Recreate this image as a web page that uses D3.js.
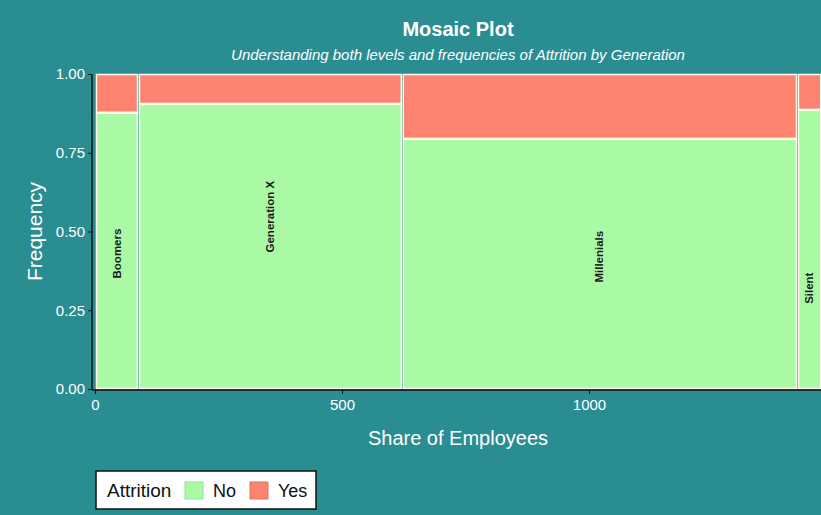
<!DOCTYPE html>
<html>
<head>
<meta charset="utf-8">
<script src="https://cdn.jsdelivr.net/npm/d3@7"></script>
<style>
  body { margin: 0; background: #fff; }
  svg { display: block; font-family: "Liberation Sans", Arial, sans-serif; }
</style>
</head>
<body>
<svg id="chart" width="821" height="515"></svg>
<script>
// generations, headcount per generation, share with Attrition = No
var generations = ["Boomers", "Generation X", "Millenials", "Silent"];
var counts = [87, 534, 800, 49];
var shareNo = [0.877, 0.905, 0.794, 0.886];
// where the generation label sits (frequency units)
var labelAt = [0.43, 0.547, 0.42, 0.32];
var xTicks = [0, 500, 1000];
var yTicks = [0, 0.25, 0.5, 0.75, 1];
var attritionLevels = ["No", "Yes"];

var svg = d3.select("#chart"),
WIDTH = 821,
HEIGHT = 515,
MARGINS = { top: 74, right: 0, bottom: 125, left: 95 };

var total = d3.sum(counts);
var colour = d3.scaleOrdinal().domain(attritionLevels).range(["#aaf9a5", "#fb836f"]);

svg.append("rect").attr("width", WIDTH).attr("height", HEIGHT).attr("fill", "#2a8d92");

var xScale = d3.scaleLinear()
    .range([MARGINS.left, MARGINS.left + total * 0.494])
    .domain([0, total]);

var yScale = d3.scaleLinear()
    .range([HEIGHT - MARGINS.bottom - 1, MARGINS.top])
    .domain([0, 1]);

// cumulative x positions
var start = 0;
var blocks = generations.map(function (g, i) {
    var b = { gen: g, x0: start, x1: start + counts[i], no: shareNo[i], lab: labelAt[i] };
    start += counts[i];
    return b;
});

var cells = [];
blocks.forEach(function (b) {
    cells.push({ gen: b.gen, att: "No", x0: b.x0, x1: b.x1, y0: 0, y1: b.no });
    cells.push({ gen: b.gen, att: "Yes", x0: b.x0, x1: b.x1, y0: b.no, y1: 1 });
});

svg.append("g").selectAll("rect")
    .data(cells)
    .enter().append("rect")
    .attr("x", function (d) { return xScale(d.x0) + 1.5; })
    .attr("y", function (d) { return yScale(d.y1) + 0.5; })
    .attr("width", function (d) { return Math.max(0, xScale(d.x1) - xScale(d.x0) - 2); })
    .attr("height", function (d) { return yScale(d.y0) - yScale(d.y1) - 1; })
    .attr("fill", function (d) { return colour(d.att); })
    .attr("stroke", "#fdfbe9")
    .attr("stroke-width", 1.5);

svg.append("g").selectAll("text")
    .data(blocks)
    .enter().append("text")
    .attr("transform", function (d) {
        return "translate(" + xScale((d.x0 + d.x1) / 2) + "," + yScale(d.lab) + ") rotate(-90)";
    })
    .attr("text-anchor", "middle")
    .attr("dy", "0.35em")
    .style("font-size", "11.5px")
    .style("font-weight", "bold")
    .attr("fill", "#1a1a1a")
    .text(function (d) { return d.gen; });

// axes
var xAxis = d3.axisBottom(xScale).tickValues(xTicks).tickSize(4).tickFormat(d3.format("d"));
var yAxis = d3.axisLeft(yScale).tickValues(yTicks).tickSize(4).tickFormat(d3.format(".2f"));

var gx = svg.append("g")
    .attr("transform", "translate(0," + (yScale(0) + 1) + ")")
    .call(xAxis);
gx.select(".domain").attr("stroke", "#111").attr("stroke-width", 1.5)
    .attr("d", "M" + (MARGINS.left - 3) + ",0H" + WIDTH);
gx.selectAll(".tick line").attr("stroke", "#111");
gx.selectAll(".tick text").attr("fill", "#fff").style("font-size", "15px").attr("dy", "0.85em");

var gy = svg.append("g")
    .attr("transform", "translate(" + (MARGINS.left - 3) + ",0)")
    .call(yAxis);
gy.select(".domain").attr("stroke", "#111").attr("stroke-width", 1.5)
    .attr("d", "M0," + yScale(1) + "V" + (yScale(0) + 1));
gy.selectAll(".tick line").attr("stroke", "#111");
gy.selectAll(".tick text").attr("fill", "#fff").style("font-size", "15px");

// titles
var midX = (MARGINS.left + WIDTH) / 2;
svg.append("text").attr("x", midX).attr("y", 36)
    .attr("text-anchor", "middle").attr("fill", "#fff")
    .style("font-size", "20px").style("font-weight", "bold")
    .text("Mosaic Plot");
svg.append("text").attr("x", midX).attr("y", 60)
    .attr("text-anchor", "middle").attr("fill", "#fff")
    .style("font-size", "15px").style("font-style", "italic")
    .text("Understanding both levels and frequencies of Attrition by Generation");

svg.append("text").attr("x", midX).attr("y", 445)
    .attr("text-anchor", "middle").attr("fill", "#fff")
    .style("font-size", "20px")
    .text("Share of Employees");

svg.append("text")
    .attr("transform", "translate(42," + ((yScale(0) + yScale(1)) / 2) + ") rotate(-90)")
    .attr("text-anchor", "middle").attr("fill", "#fff")
    .style("font-size", "21px")
    .text("Frequency");

// legend
var leg = svg.append("g").attr("transform", "translate(96,471)");
leg.append("rect").attr("width", 220).attr("height", 38)
    .attr("fill", "#fff").attr("stroke", "#111").attr("stroke-width", 1.5);
leg.append("text").attr("x", 11).attr("y", 26).attr("fill", "#111")
    .style("font-size", "19px").text("Attrition");
var items = leg.selectAll(".item").data(attritionLevels).enter().append("g")
    .attr("transform", function (d, i) { return "translate(" + (89 + i * 65) + ",11)"; });
items.append("rect").attr("width", 18).attr("height", 17)
    .attr("fill", function (d) { return colour(d); })
    .attr("stroke", function (d) { return d3.color(colour(d)).darker(0.3); });
items.append("text").attr("x", 28).attr("y", 15).attr("fill", "#111")
    .style("font-size", "18px").text(function (d) { return d; });
</script>
</body>
</html>
